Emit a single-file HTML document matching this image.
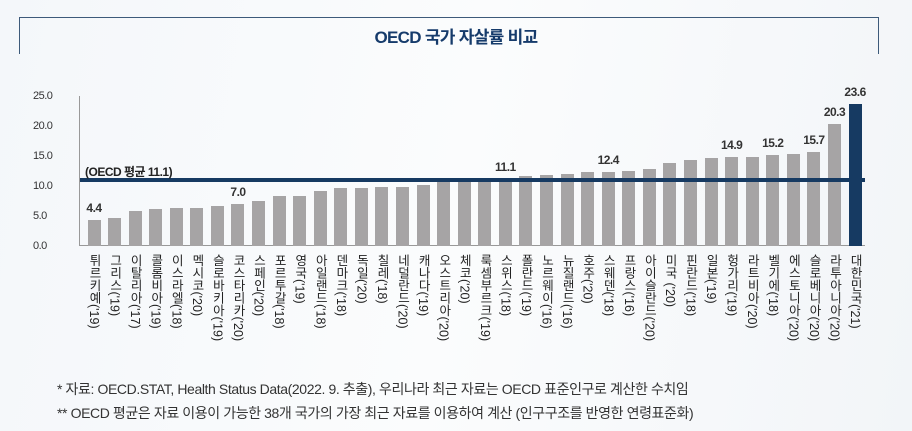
<!DOCTYPE html>
<html><head><meta charset="utf-8"><style>
body{margin:0;width:912px;height:431px;overflow:hidden;background:linear-gradient(100deg,#f4f7fa 0%,#fbfcfd 50%,#f2f5f8 100%);font-family:"Liberation Sans","Noto Sans CJK KR",sans-serif;position:relative}
.box{position:absolute;left:19px;top:17px;width:858px;height:36px;border:1.5px solid #3d5a7a;border-bottom:none}
.title{position:absolute;left:0;width:912px;top:23px;text-align:center;font-weight:bold;font-size:17px;color:#163b6b;letter-spacing:-0.7px}
.yl{position:absolute;left:33px;font-size:11px;color:#333;letter-spacing:-0.5px}
.bar{position:absolute;width:13px;background:#a6a4a5}
.lab{position:absolute;top:254px;writing-mode:vertical-rl;text-orientation:mixed;font-size:12.5px;color:#222;line-height:13px;letter-spacing:0}
.val{position:absolute;font-size:12px;font-weight:bold;color:#333;letter-spacing:-0.5px;width:40px;text-align:center}
.fn{position:absolute;left:57px;font-size:14px;color:#333;letter-spacing:-0.4px}
</style></head><body>
<div class="box"></div>
<div class="title">OECD 국가 자살률 비교</div>
<div class="yl" style="top:90px">25.0</div>
<div class="yl" style="top:120px">20.0</div>
<div class="yl" style="top:150px">15.0</div>
<div class="yl" style="top:180px">10.0</div>
<div class="yl" style="top:210px">5.0</div>
<div class="yl" style="top:240px">0.0</div>
<div style="position:absolute;left:79px;top:96px;width:1px;height:150px;background:#999"></div>
<div style="position:absolute;left:79px;top:245px;width:786px;height:1px;background:#999"></div>
<div id="c"></div>
<div style="position:absolute;left:80px;top:178px;width:785px;height:4px;background:#163a62"></div>
<div style="position:absolute;left:85px;top:163px;font-size:12px;font-weight:bold;color:#222;letter-spacing:-0.5px">(OECD 평균 11.1)</div>
<div class="fn" style="top:379px">* 자료: OECD.STAT, Health Status Data(2022. 9. 추출), 우리나라 최근 자료는 OECD 표준인구로 계산한 수치임</div>
<div class="fn" style="top:403px">** OECD 평균은 자료 이용이 가능한 38개 국가의 가장 최근 자료를 이용하여 계산 (인구구조를 반영한 연령표준화)</div>
<script>
var d=[["튀르키예('19)",4.4,1],["그리스('19)",4.7],["이탈리아('17)",5.8],["콜롬비아('19)",6.1],["이스라엘('18)",6.3],["멕시코('20)",6.3],["슬로바키아('19)",6.7],["코스타리카('20)",7.0,1],["스페인('20)",7.5],["포르투갈('18)",8.3],["영국('19)",8.3],["아일랜드('18)",9.2],["덴마크('18)",9.6],["독일('20)",9.6],["칠레('18)",9.8],["네덜란드('20)",9.8],["캐나다('19)",10.2],["오스트리아('20)",11.0],["체코('20)",11.0],["룩셈부르크('19)",11.1],["스위스('18)",11.1,1],["폴란드('19)",11.6],["노르웨이('16)",11.8],["뉴질랜드('16)",12.0],["호주('20)",12.3],["스웨덴('18)",12.4,1],["프랑스('16)",12.5],["아이슬란드('20)",12.8],["미국 ('20)",13.9],["핀란드('18)",14.4],["일본('19)",14.6],["헝가리('19)",14.9,1],["라트비아('20)",14.9],["벨기에('18)",15.2,1],["에스토니아('20)",15.3],["슬로베니아('20)",15.7,1],["라투아니아('20)",20.3,1],["대한민국('21)",23.6,1]];
var h="";
d.forEach(function(e,i){var cx=94+i*20.57,bh=e[1]*6,top=246-bh;
var col=i==37?"#163a62":"#a6a4a5";
h+='<div class="bar" style="left:'+(cx-6.5)+'px;top:'+top+'px;height:'+bh+'px;background:'+col+'"></div>';
h+='<div class="lab" style="left:'+(cx-7)+'px">'+e[0]+'</div>';
if(e[2])h+='<div class="val" style="left:'+(cx-20)+'px;top:'+(top-19)+'px">'+e[1].toFixed(1)+'</div>';});
document.getElementById("c").innerHTML=h;
</script>
</body></html>
